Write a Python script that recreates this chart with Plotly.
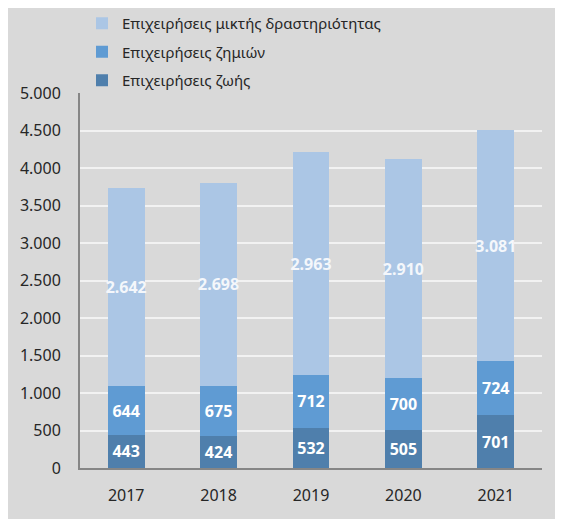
import plotly.graph_objects as go

years = ["2017", "2018", "2019", "2020", "2021"]
life = [443, 424, 532, 505, 701]
nonlife = [644, 675, 712, 700, 724]
mixed = [2642, 2698, 2963, 2910, 3081]

names = ["Επιχειρήσεις ζωής", "Επιχειρήσεις ζημιών", "Επιχειρήσεις μικτής δραστηριότητας"]
colors = ["#4f7fac", "#5f9bd3", "#abc6e5"]
label_colors = ["white", "white", "#f4f7fb"]
legend_ranks = [3, 2, 1]
series = [life, nonlife, mixed]

FONT = "Noto Sans"

fig = go.Figure()
for name, vals, col, lc, rk in zip(names, series, colors, label_colors, legend_ranks):
    fig.add_trace(go.Bar(
        x=years, y=vals, name=name, marker=dict(color=col, line=dict(width=0)),
        texttemplate="%{y:,}", textposition="inside", insidetextanchor="middle",
        constraintext="none", cliponaxis=False,
        textfont=dict(family=FONT, size=16, color=lc, weight="bold"),
        textangle=0, legendgroup=name, legendrank=rk,
    ))

# the page body adds an 8px margin, so the figure sits at (8, 8)
W, H = 555, 511
L, R, T, B = 72, 21, 85, 51
pw, ph = W - L - R, H - T - B

def px_x(p):
    return (p - L) / pw

def px_y(p):
    return (H - B - p) / ph

fig.update_layout(
    width=W, height=H,
    margin=dict(l=L, r=R, t=T, b=B, autoexpand=False),
    barmode="stack", bargap=0.6,
    separators=",.",
    paper_bgcolor="#d9d9d9", plot_bgcolor="rgba(0,0,0,0)",
    font=dict(family=FONT, size=15, color="#262626"),
    legend=dict(
        traceorder="grouped", orientation="v",
        x=px_x(74), y=px_y(-1), xanchor="left", yanchor="top",
        font=dict(family=FONT, size=15, color="#262626"),
        bgcolor="rgba(0,0,0,0)", tracegroupgap=6, itemwidth=30,
    ),
    xaxis=dict(
        showgrid=False, showline=True, linecolor="#868686", linewidth=2,
        ticks="", tickfont=dict(family=FONT, size=16, color="#262626"),
        ticklabelstandoff=12,
    ),
    yaxis=dict(
        range=[0, 5000], dtick=500, tickformat=",d",
        showgrid=True, gridcolor="#f2f2f2", gridwidth=2,
        showline=True, linecolor="#868686", linewidth=2,
        zeroline=False, ticks="",
        tickfont=dict(family=FONT, size=16, color="#262626"),
        ticklabelstandoff=14,
    ),
)

fig.write_html("out.html")
